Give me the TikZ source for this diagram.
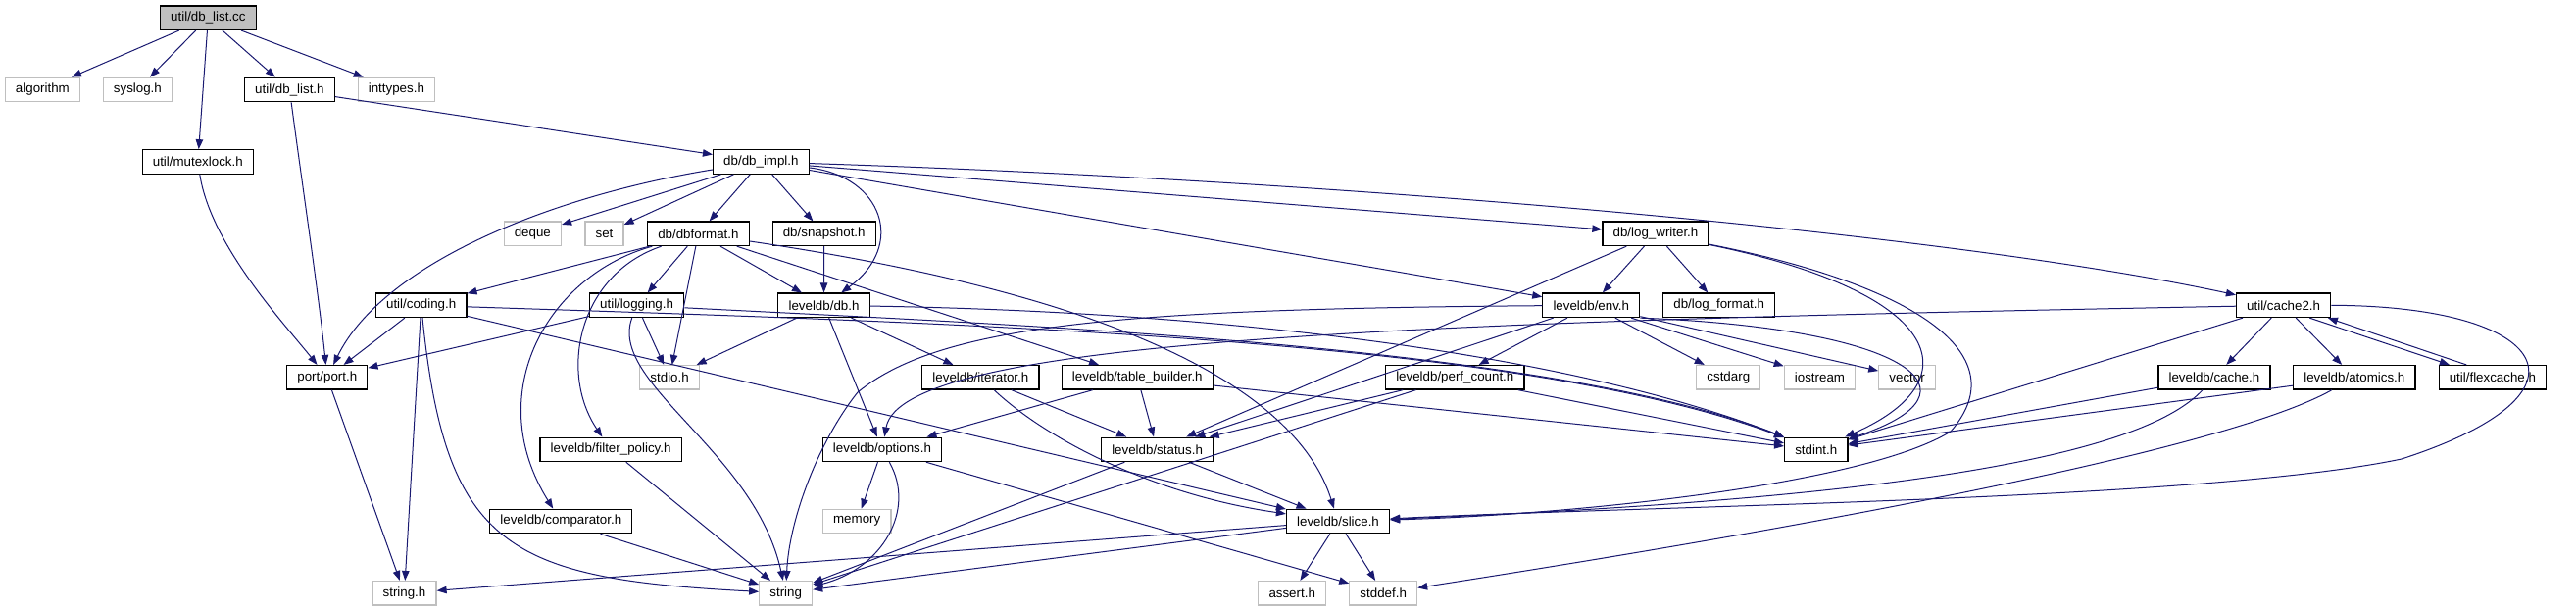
\documentclass[tikz,border=0pt]{standalone}
\usepackage{fontspec}
\setmainfont{Liberation Sans}
\usetikzlibrary{arrows.meta}
\definecolor{edgeblue}{HTML}{191970}
\definecolor{extgray}{HTML}{BFBFBF}
\begin{document}
\begin{tikzpicture}[x=0.75pt,y=-0.75pt,
  hdr/.style={draw=black, line width=0.9pt, inner xsep=8pt, inner ysep=0pt, minimum height=18.4pt, font=\fontsize{10}{12}\selectfont, fill=white},
  ext/.style={hdr, draw=extgray},
  root/.style={hdr, fill=extgray},
  edge/.style={draw=edgeblue, line width=0.75pt, -{Triangle[length=7.5pt,width=5.6pt]}}
]
\useasboundingbox[fill=white] (0,0) rectangle (2628,623);
% rank 0
\node[root] (dblistcc) at (212.4,18.2) {util/db\_list.cc};
% rank 1
\node[ext] (algorithm) at (43.4,91.5) {algorithm};
\node[ext] (syslog) at (140.4,91.5) {syslog.h};
\node[hdr] (dblisth) at (295.4,91.5) {util/db\_list.h};
\node[ext] (inttypes) at (404.4,91.5) {inttypes.h};
% rank 2
\node[hdr] (mutexlock) at (201.8,165) {util/mutexlock.h};
\node[hdr] (dbimpl) at (776.4,165) {db/db\_impl.h};
% rank 3
\node[ext] (deque) at (543.3,238.3) {deque};
\node[ext] (set) at (616.5,238.3) {set};
\node[hdr] (dbformat) at (712.4,238.3) {db/dbformat.h};
\node[hdr] (snapshot) at (840.7,238.3) {db/snapshot.h};
\node[hdr] (logwriter) at (1689,238.3) {db/log\_writer.h};
% rank 4
\node[hdr] (coding) at (429.7,311.3) {util/coding.h};
\node[hdr] (logging) at (649.6,311.3) {util/logging.h};
\node[hdr] (db) at (840.5,311.3) {leveldb/db.h};
\node[hdr] (env) at (1623.3,311.3) {leveldb/env.h};
\node[hdr] (logformat) at (1753.7,311.3) {db/log\_format.h};
\node[hdr] (cache2) at (2329.6,311.3) {util/cache2.h};
% rank 5
\node[hdr] (port) at (333.8,384.8) {port/port.h};
\node[ext] (stdio) at (683.1,384.8) {stdio.h};
\node[hdr] (iterator) at (1000.4,384.8) {leveldb/iterator.h};
\node[hdr] (tablebuilder) at (1160.3,384.8) {leveldb/table\_builder.h};
\node[hdr] (perfcount) at (1484.3,384.8) {leveldb/perf\_count.h};
\node[ext] (cstdarg) at (1763.3,384.8) {cstdarg};
\node[ext] (iostream) at (1856.5,384.8) {iostream};
\node[ext] (vector) at (1945.6,384.8) {vector};
\node[hdr] (cache) at (2258.9,384.8) {leveldb/cache.h};
\node[hdr] (atomics) at (2401.8,384.8) {leveldb/atomics.h};
\node[hdr] (flexcache) at (2542.9,384.8) {util/flexcache.h};
% rank 6
\node[hdr] (filterpolicy) at (623.1,458.4) {leveldb/filter\_policy.h};
\node[hdr] (options) at (900,458.4) {leveldb/options.h};
\node[hdr] (status) at (1180.6,458.4) {leveldb/status.h};
\node[hdr] (stdint) at (1852.8,458.4) {stdint.h};
% rank 7
\node[hdr] (comparator) at (572.3,531.5) {leveldb/comparator.h};
\node[ext] (memory) at (874.2,531.5) {memory};
\node[hdr] (slice) at (1365,531.5) {leveldb/slice.h};
% rank 8
\node[ext] (stringh) at (412.5,604.8) {string.h};
\node[ext] (string) at (801.7,604.8) {string};
\node[ext] (assert) at (1318.2,604.8) {assert.h};
\node[ext] (stddef) at (1411.2,604.8) {stddef.h};

% edges
\draw[edge] (dblistcc) -- (algorithm);
\draw[edge] (dblistcc) -- (syslog);
\draw[edge] (dblistcc) -- (mutexlock);
\draw[edge] (dblistcc) -- (dblisth);
\draw[edge] (dblistcc) -- (inttypes);

\draw[edge] (dblisth) .. controls (310,200) and (325,300) .. (port);
\draw[edge] (dblisth) -- (dbimpl);
\draw[edge] (mutexlock) .. controls (215,250) and (290,330) .. (port);

\draw[edge] (dbimpl) -- (deque);
\draw[edge] (dbimpl) -- (set);
\draw[edge] (dbimpl) -- (dbformat);
\draw[edge] (dbimpl) -- (snapshot);
\draw[edge] (dbimpl) .. controls (560,200) and (390,270) .. (port);
\draw[edge] (dbimpl) .. controls (900,180) and (925,250) .. (db);
\draw[edge] (dbimpl) -- (logwriter);
\draw[edge] (dbimpl) -- (env);
\draw[edge] (dbimpl) .. controls (1400,185) and (2000,240) .. (cache2);

\draw[edge] (dbformat) -- (coding);
\draw[edge] (dbformat) .. controls (560,280) and (490,400) .. (comparator);
\draw[edge] (dbformat) .. controls (590,280) and (570,380) .. (filterpolicy);
\draw[edge] (dbformat) -- (stdio);
\draw[edge] (dbformat) -- (logging);
\draw[edge] (dbformat) -- (db);
\draw[edge] (dbformat) -- (tablebuilder);
\draw[edge] (dbformat) .. controls (1200,310) and (1330,420) .. (slice);

\draw[edge] (snapshot) -- (db);

\draw[edge] (coding) -- (port);
\draw[edge] (coding) -- (stringh);
\draw[edge] (coding) .. controls (455,560) and (520,590) .. (string);
\draw[edge] (coding) -- (slice);
\draw[edge] (coding) .. controls (1000,330) and (1550,345) .. (stdint);

\draw[edge] (logging) -- (port);
\draw[edge] (logging) -- (stdio);
\draw[edge] (logging) .. controls (620,390) and (770,460) .. (string);
\draw[edge] (logging) .. controls (1050,332) and (1580,352) .. (stdint);

\draw[edge] (db) -- (stdio);
\draw[edge] (db) -- (options);
\draw[edge] (db) -- (iterator);
\draw[edge] (db) .. controls (1250,318) and (1600,360) .. (stdint);

\draw[edge] (logwriter) -- (env);
\draw[edge] (logwriter) -- (logformat);
\draw[edge] (logwriter) -- (status);
\draw[edge] (logwriter) .. controls (1990,300) and (2010,390) .. (stdint);
\draw[edge] (logwriter) .. controls (1950,290) and (2060,360) .. (1990,440) .. controls (1900,495) and (1600,525) .. (slice);

\draw[edge] (env) .. controls (1150,315) and (960,330) .. (875,400) .. controls (835,450) and (805,530) .. (string);
\draw[edge] (env) -- (status);
\draw[edge] (env) -- (perfcount);
\draw[edge] (env) -- (cstdarg);
\draw[edge] (env) -- (iostream);
\draw[edge] (env) -- (vector);
\draw[edge] (env.south east) .. controls (1950,335) and (2030,400) .. (stdint);

\draw[edge] (cache2) .. controls (1450,328) and (920,345) .. (options);
\draw[edge] (cache2) -- (stdint);
\draw[edge] (cache2) -- (cache);
\draw[edge] (cache2) -- (atomics);
\draw[edge] ([xshift=20pt]cache2.south) -- ([xshift=-33pt]flexcache.north);
\draw[edge] ([xshift=-20pt]flexcache.north) -- ([xshift=34pt]cache2.south);
\draw[edge] (cache2.east) .. controls (2600,312) and (2660,400) .. (2450,468) .. controls (2250,510) and (1700,515) .. (slice);

\draw[edge] (port) -- (stringh);

\draw[edge] (iterator) -- (status);
\draw[edge] (iterator) .. controls (1070,450) and (1180,505) .. (slice);

\draw[edge] (tablebuilder) -- (options);
\draw[edge] (tablebuilder) -- (status);
\draw[edge] (tablebuilder) -- (stdint);

\draw[edge] (perfcount) -- (status);
\draw[edge] (perfcount) -- (string);
\draw[edge] (perfcount) -- (stdint);

\draw[edge] (filterpolicy) -- (string);
\draw[edge] (comparator) -- (string);

\draw[edge] (options) -- (memory);
\draw[edge] (options) .. controls (935,520) and (900,580) .. (string);
\draw[edge] (options) -- (stddef);

\draw[edge] (status) -- (string);
\draw[edge] (status) -- (slice);

\draw[edge] (slice) -- (stringh);
\draw[edge] (slice) -- (string);
\draw[edge] (slice) -- (assert);
\draw[edge] (slice) -- (stddef);

\draw[edge] (cache) -- (stdint);
\draw[edge] (cache) .. controls (2180,470) and (1900,510) .. (slice);
\draw[edge] (atomics) -- (stdint);
\draw[edge] (atomics) .. controls (2250,470) and (1700,560) .. (stddef);
\end{tikzpicture}
\end{document}
